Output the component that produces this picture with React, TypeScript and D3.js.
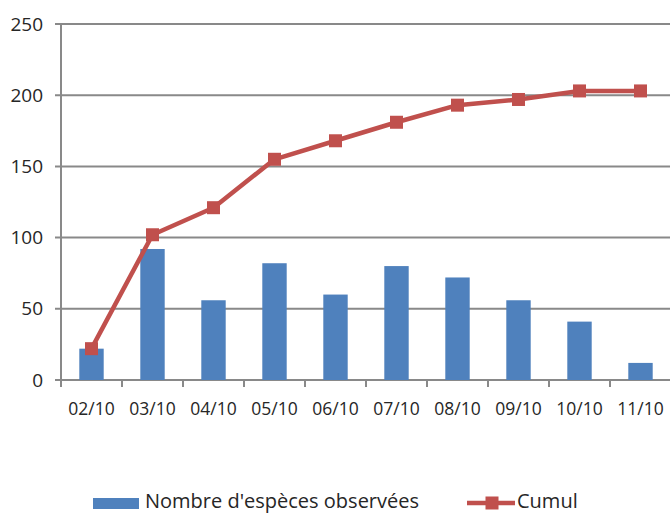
import React from "react";
import * as d3 from "d3";

const categories = ["02/10", "03/10", "04/10", "05/10", "06/10", "07/10", "08/10", "09/10", "10/10", "11/10"];
const especes = [22, 92, 56, 82, 60, 80, 72, 56, 41, 12];
const cumul = [22, 102, 121, 155, 168, 181, 193, 197, 203, 203];
const yTicks = [0, 50, 100, 150, 200, 250];
const seriesNames = ["Nombre d'espèces observées", "Cumul"];

const W = 670;
const H = 514;
const FONT = "'Open Sans', sans-serif";
const BAR = "#4F81BD";
const LINE = "#C0504D";
const GRID = "#898989";
const TEXT = "#262626";

export default function App() {
  const x = d3.scaleBand<string>().domain(categories).range([61, 671]).paddingInner(0.6).paddingOuter(0.3);
  const y = d3.scaleLinear().domain([0, 250]).range([380, 24]);
  const step = x.step();
  const cx = (c: string) => (x(c) as number) + x.bandwidth() / 2;
  const line = d3
    .line<number>()
    .x((_, i) => cx(categories[i]))
    .y((d) => y(d));
  const boundaries = d3.range(categories.length + 1).map((i) => 61 + i * step);

  return (
    <svg width={W} height={H} style={{ position: "absolute", left: 0, top: 0, background: "#fff" }}>
      {yTicks.map((t) => (
        <g key={t}>
          <line x1={55} x2={670} y1={y(t)} y2={y(t)} stroke={GRID} strokeWidth={2} />
          <text x={43} y={y(t)} dy="0.35em" textAnchor="end" fontFamily={FONT} fontSize={19} fill={TEXT}>
            {t}
          </text>
        </g>
      ))}
      <line x1={61} x2={61} y1={y(250)} y2={y(0)} stroke={GRID} strokeWidth={2} />
      {boundaries.map((b, i) => (
        <line key={i} x1={b} x2={b} y1={y(0)} y2={y(0) + 7} stroke={GRID} strokeWidth={2} />
      ))}
      {categories.map((c, i) => (
        <rect key={c} x={x(c)} y={y(especes[i])} width={x.bandwidth()} height={y(0) - y(especes[i])} fill={BAR} />
      ))}
      {categories.map((c) => (
        <text key={c} x={cx(c)} y={409} dy="0.35em" textAnchor="middle" fontFamily={FONT} fontSize={17.5} fill={TEXT}>
          {c}
        </text>
      ))}
      <path d={line(cumul) as string} fill="none" stroke={LINE} strokeWidth={4.5} strokeLinejoin="round" />
      {categories.map((c, i) => (
        <rect key={c} x={cx(c) - 6.5} y={y(cumul[i]) - 6.5} width={13} height={13} fill={LINE} />
      ))}
      <rect x={93} y={498} width={46} height={11} fill={BAR} />
      <text x={145} y={501} dy="0.35em" fontFamily={FONT} fontSize={20} fill={TEXT}>
        {seriesNames[0]}
      </text>
      <line x1={467} x2={515} y1={503} y2={503} stroke={LINE} strokeWidth={4.5} />
      <rect x={485.5} y={496.5} width={13} height={13} fill={LINE} />
      <text x={517} y={501} dy="0.35em" fontFamily={FONT} fontSize={20} fill={TEXT}>
        {seriesNames[1]}
      </text>
    </svg>
  );
}
